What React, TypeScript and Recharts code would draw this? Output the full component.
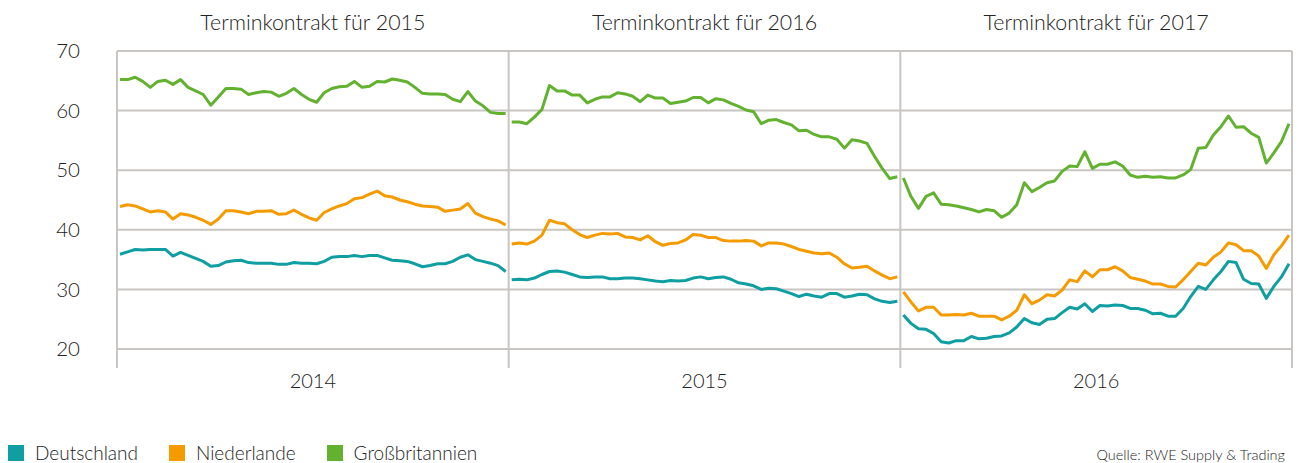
import { CartesianGrid, Line, LineChart, ReferenceLine, XAxis, YAxis } from "recharts";

const years = ["2014", "2015", "2016"];
const titles = ["Terminkontrakt für 2015", "Terminkontrakt für 2016", "Terminkontrakt für 2017"];
const yTicks = [20, 30, 40, 50, 60, 70];

const deutschland2014 = [
  35.9, 36.3, 36.7, 36.6, 36.7, 36.7, 36.7, 35.6, 36.2, 35.7, 35.2, 34.7, 33.9, 34.0, 34.6, 34.8, 34.9, 34.5,
  34.4, 34.4, 34.4, 34.2, 34.2, 34.5, 34.4, 34.4, 34.3, 34.7, 35.4, 35.5, 35.5, 35.7, 35.5, 35.7, 35.7, 35.3,
  34.9, 34.8, 34.7, 34.3, 33.8, 34.0, 34.3, 34.3, 34.7, 35.4, 35.8, 35.0, 34.7, 34.4, 34.0, 33.0
];
const niederlande2014 = [
  43.9, 44.2, 44.0, 43.5, 43.0, 43.2, 43.0, 41.8, 42.7, 42.5, 42.1, 41.6, 40.9, 41.8, 43.2, 43.2, 43.0, 42.7,
  43.1, 43.1, 43.2, 42.6, 42.7, 43.3, 42.6, 42.0, 41.6, 42.9, 43.5, 44.0, 44.4, 45.2, 45.4, 46.0, 46.5, 45.7,
  45.5, 45.0, 44.7, 44.3, 44.0, 43.9, 43.8, 43.1, 43.3, 43.5, 44.4, 42.8, 42.2, 41.8, 41.5, 40.8
];
const grossbritannien2014 = [
  65.2, 65.2, 65.6, 64.9, 63.9, 64.9, 65.1, 64.4, 65.2, 63.9, 63.3, 62.7, 60.9, 62.3, 63.7, 63.7, 63.6, 62.7,
  63.0, 63.2, 63.1, 62.4, 62.9, 63.7, 62.7, 61.9, 61.4, 63.0, 63.7, 64.0, 64.1, 64.9, 63.9, 64.1, 64.9, 64.8,
  65.3, 65.1, 64.8, 63.9, 62.9, 62.8, 62.8, 62.7, 61.9, 61.5, 63.2, 61.6, 60.8, 59.7, 59.5, 59.5
];

const deutschland2015 = [
  31.6, 31.7, 31.6, 31.9, 32.5, 33.0, 33.1, 32.9, 32.5, 32.1, 32.0, 32.1, 32.1, 31.8, 31.8, 31.9, 31.9, 31.8,
  31.6, 31.4, 31.3, 31.5, 31.4, 31.5, 31.9, 32.1, 31.8, 32.0, 32.1, 31.7, 31.1, 30.9, 30.6, 30.0, 30.2, 30.1,
  29.7, 29.3, 28.8, 29.2, 28.9, 28.7, 29.3, 29.3, 28.7, 28.9, 29.2, 29.1, 28.4, 28.0, 27.8, 28.0
];
const niederlande2015 = [
  37.6, 37.8, 37.6, 38.1, 39.1, 41.6, 41.2, 41.0, 40.0, 39.2, 38.7, 39.1, 39.4, 39.3, 39.4, 38.8, 38.7, 38.3,
  39.0, 38.0, 37.4, 37.7, 37.8, 38.3, 39.2, 39.1, 38.7, 38.7, 38.2, 38.1, 38.1, 38.2, 38.1, 37.3, 37.8, 37.8,
  37.6, 37.2, 36.7, 36.4, 36.1, 36.0, 36.1, 35.4, 34.3, 33.6, 33.7, 33.9, 33.1, 32.4, 31.8, 32.1
];
const grossbritannien2015 = [
  58.1, 58.1, 57.8, 58.9, 60.2, 64.2, 63.3, 63.3, 62.6, 62.6, 61.3, 61.9, 62.3, 62.3, 63.0, 62.8, 62.4, 61.5,
  62.6, 62.1, 62.1, 61.2, 61.4, 61.6, 62.2, 62.2, 61.3, 62.0, 61.8, 61.2, 60.7, 60.1, 59.8, 57.8, 58.4, 58.5,
  58.0, 57.6, 56.6, 56.7, 56.0, 55.6, 55.6, 55.2, 53.7, 55.1, 54.9, 54.5, 52.3, 50.3, 48.6, 48.9
];

const deutschland2016 = [
  25.7, 24.3, 23.4, 23.3, 22.6, 21.2, 21.0, 21.4, 21.4, 22.1, 21.7, 21.8, 22.1, 22.2, 22.7, 23.7, 25.1, 24.4,
  24.1, 25.0, 25.1, 26.1, 27.0, 26.7, 27.6, 26.3, 27.3, 27.2, 27.4, 27.3, 26.8, 26.8, 26.5, 25.9, 26.0, 25.5,
  25.5, 26.8, 28.8, 30.5, 30.0, 31.6, 33.0, 34.7, 34.5, 31.7, 31.0, 30.9, 28.5, 30.5, 32.1, 34.3
];
const niederlande2016 = [
  29.6, 27.9, 26.4, 27.0, 27.0, 25.7, 25.7, 25.8, 25.7, 26.0, 25.5, 25.5, 25.5, 24.9, 25.5, 26.5, 29.1, 27.6,
  28.2, 29.1, 28.9, 29.9, 31.6, 31.3, 33.1, 32.1, 33.3, 33.3, 33.8, 33.1, 32.0, 31.7, 31.4, 30.9, 30.9, 30.5,
  30.4, 31.6, 33.0, 34.4, 34.1, 35.4, 36.3, 37.8, 37.5, 36.5, 36.5, 35.6, 33.5, 35.8, 37.3, 39.1
];
const grossbritannien2016 = [
  48.7, 45.6, 43.6, 45.6, 46.2, 44.3, 44.2, 44.0, 43.7, 43.4, 43.0, 43.4, 43.2, 42.1, 42.8, 44.2, 47.9, 46.4,
  47.1, 47.9, 48.2, 49.8, 50.7, 50.6, 53.1, 50.3, 51.0, 51.0, 51.4, 50.7, 49.2, 48.8, 49.0, 48.8, 48.9, 48.7,
  48.7, 49.2, 50.1, 53.7, 53.8, 55.9, 57.3, 59.1, 57.2, 57.3, 56.2, 55.5, 51.2, 52.9, 54.8, 57.8
];

const deutschland = [deutschland2014, deutschland2015, deutschland2016];
const niederlande = [niederlande2014, niederlande2015, niederlande2016];
const grossbritannien = [grossbritannien2014, grossbritannien2015, grossbritannien2016];

const series = [
  { key: "de", name: "Deutschland", color: "#0f9ea2" },
  { key: "nl", name: "Niederlande", color: "#f59b00" },
  { key: "gb", name: "Großbritannien", color: "#62b22f" }
];

// one panel = 51.8 week slots, first week sits a bit inside the panel
const PANEL = 51.8;
const PAD = 0.4;

const rows: { x: number; de: number | null; nl: number | null; gb: number | null }[] = [];
years.forEach((_, p) => {
  if (p > 0) rows.push({ x: p * PANEL, de: null, nl: null, gb: null });
  deutschland[p].forEach((v, i) => {
    rows.push({ x: p * PANEL + PAD + i, de: v, nl: niederlande[p][i], gb: grossbritannien[p][i] });
  });
});

const boundaries = [0, PANEL, 2 * PANEL, 3 * PANEL];
const centers = years.map((_, p) => (p + 0.5) * PANEL);
const FONT = "Lato, 'Open Sans', sans-serif";
const TEXT = "#222";
const GRID = "#c8c5c2";

function centerIndex(value: number) {
  return centers.findIndex((c) => Math.abs(c - value) < 0.01);
}

function BottomTick({ x, y, payload }: any) {
  const idx = centerIndex(payload.value);
  if (idx < 0) {
    return <line x1={x} x2={x} y1={y} y2={y + 19} stroke={GRID} strokeWidth={2} />;
  }
  return (
    <text x={x} y={y + 39} textAnchor="middle" fontSize={20} fill={TEXT} fontFamily={FONT} fontWeight={300}>
      {years[idx]}
    </text>
  );
}

function TopTick({ x, y, payload }: any) {
  const idx = centerIndex(payload.value);
  if (idx < 0) return null;
  return (
    <text x={x} y={y - 21} textAnchor="middle" fontSize={21.4} fill={TEXT} fontFamily={FONT} fontWeight={300}>
      {titles[idx]}
    </text>
  );
}

export default function App() {
  return (
    <div style={{ position: "relative", width: 1299, height: 463, fontFamily: FONT, color: TEXT, overflow: "hidden" }}>
      <style>{"body{margin:0}"}</style>
      <LineChart width={1299} height={400} data={rows} margin={{ top: 0, right: 7, bottom: 0, left: 0 }}>
        <CartesianGrid vertical={false} stroke={GRID} strokeWidth={2} />
        <XAxis
          xAxisId="top"
          orientation="top"
          type="number"
          dataKey="x"
          domain={[0, 3 * PANEL]}
          ticks={centers}
          interval={0}
          height={51}
          axisLine={false}
          tickLine={false}
          tickSize={0}
          tickMargin={0}
          tick={TopTick}
        />
        <XAxis
          type="number"
          dataKey="x"
          domain={[0, 3 * PANEL]}
          ticks={[...boundaries, ...centers].sort((a, b) => a - b)}
          interval={0}
          height={51}
          axisLine={false}
          tickLine={false}
          tickSize={0}
          tickMargin={0}
          tick={BottomTick}
        />
        <YAxis
          type="number"
          domain={[20, 70]}
          ticks={yTicks}
          interval={0}
          width={117}
          axisLine={false}
          tickLine={false}
          tickSize={0}
          tickMargin={37}
          tick={{ fontSize: 20.5, fill: TEXT, fontFamily: FONT, fontWeight: 300 }}
        />
        {boundaries.map((b) => (
          <ReferenceLine key={b} x={b} stroke={GRID} strokeWidth={2} />
        ))}
        {series.map((s) => (
          <Line
            key={s.key}
            type="linear"
            dataKey={s.key}
            name={s.name}
            stroke={s.color}
            strokeWidth={3}
            strokeLinejoin="round"
            dot={false}
            activeDot={false}
            isAnimationActive={false}
          />
        ))}
      </LineChart>
      <div style={{ position: "absolute", left: 8, top: 443, display: "flex", alignItems: "center", fontSize: 19, fontWeight: 300, lineHeight: "19px" }}>
        {series.map((s) => (
          <div key={s.key} style={{ display: "flex", alignItems: "center", marginRight: 31 }}>
            <span style={{ width: 16, height: 16, background: s.color, marginRight: 11 }} />
            <span>{s.name}</span>
          </div>
        ))}
      </div>
      <div style={{ position: "absolute", right: 14, top: 447, fontSize: 14.5, fontWeight: 300, lineHeight: "15px" }}>
        Quelle: RWE Supply &amp; Trading
      </div>
    </div>
  );
}
